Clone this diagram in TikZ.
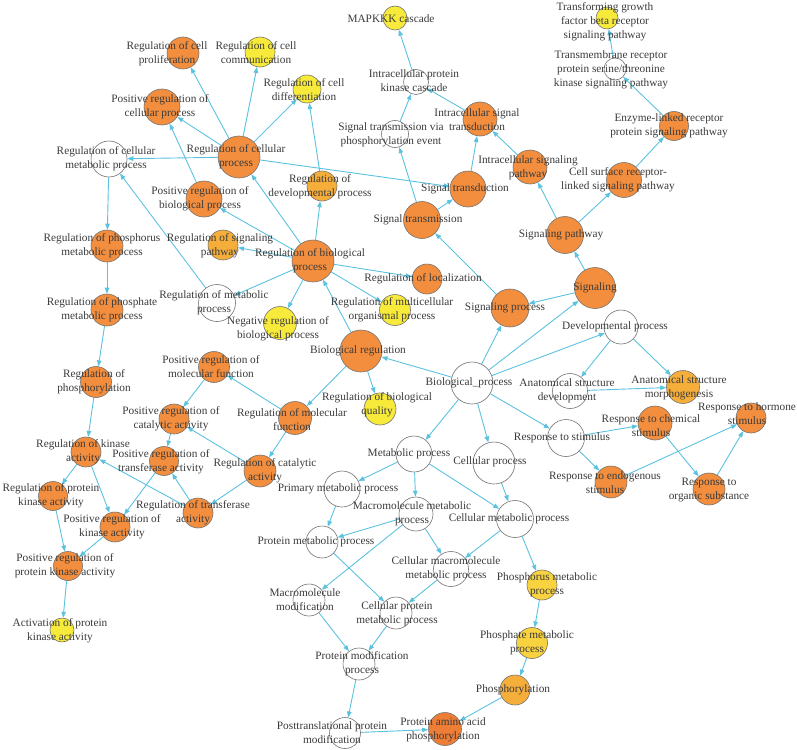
\documentclass[tikz,border=0pt]{standalone}
\usepackage{fontspec}
\setmainfont{Liberation Serif}
\usetikzlibrary{arrows.meta,backgrounds}
\definecolor{edg}{HTML}{5BC2DF}
\definecolor{orng}{HTML}{F28E3E}
\definecolor{lorng}{HTML}{F6AE3B}
\definecolor{dorng}{HTML}{EE7D35}
\definecolor{yell}{HTML}{F7EA3A}
\definecolor{gold}{HTML}{F8D23F}
\definecolor{txt}{HTML}{3A3A3A}
\tikzset{
  gnode/.style={circle,draw=black!55,line width=0.6pt,inner sep=0pt},
  nO/.style={gnode,fill=orng},
  nL/.style={gnode,fill=lorng},
  nD/.style={gnode,fill=dorng},
  nY/.style={gnode,fill=yell},
  nG/.style={gnode,fill=gold},
  nW/.style={gnode,fill=white},
  lbl/.style={align=center,inner sep=0pt,text=txt,font=\fontsize{11.3}{14}\selectfont},
  ar/.style={-{Triangle[length=6pt,width=4.5pt]},line width=0.9pt,draw=edg},
}

\begin{document}
\begin{tikzpicture}[x=1pt,y=-1pt]
  \useasboundingbox (0,0) rectangle (797,749);
  % circles
  \node[nO,minimum size=32] (rcprol) at (183,53) {};
  \node[nY,minimum size=30] (rccom) at (260,52) {};
  \node[nO,minimum size=36] (prcp) at (162,107) {};
  \node[nW,minimum size=36] (rcmp) at (109,159) {};
  \node[nO,minimum size=42] (rcp) at (239,157) {};
  \node[nO,minimum size=36] (prbp) at (204,199) {};
  \node[nO,minimum size=32] (rphosm) at (107,246) {};
  \node[nL,minimum size=30] (rsp) at (223,245) {};
  \node[nY,minimum size=24] (mapkkk) at (395,18) {};
  \node[nY,minimum size=28] (rcdiff) at (307,89) {};
  \node[nW,minimum size=25] (ipkc) at (416,82) {};
  \node[nO,minimum size=34] (ist) at (480,119) {};
  \node[nW,minimum size=27] (stvp) at (395,134) {};
  \node[nL,minimum size=30] (rdp) at (322,186) {};
  \node[nO,minimum size=36] (stduc) at (468,189) {};
  \node[nO,minimum size=37] (stmis) at (422,220) {};
  \node[nO,minimum size=34] (isp) at (530,167) {};
  \node[nY,minimum size=22] (tgfb) at (607,18) {};
  \node[nW,minimum size=22] (tmr) at (615,69) {};
  \node[nO,minimum size=29] (elr) at (674,126) {};
  \node[nO,minimum size=35] (csr) at (624,180) {};
  \node[nO,minimum size=37] (sigp) at (565,235) {};
  \node[nO,minimum size=32] (rphm) at (107,310) {};
  \node[nW,minimum size=37] (rmp) at (217,303) {};
  \node[nO,minimum size=31] (rphy) at (96,382) {};
  \node[nO,minimum size=31] (prmf) at (214,367) {};
  \node[nO,minimum size=30] (prca) at (174,419) {};
  \node[nO,minimum size=30] (rka) at (86,452) {};
  \node[nO,minimum size=29] (prta) at (164,461) {};
  \node[nO,minimum size=32] (rca) at (260,471) {};
  \node[nO,minimum size=33] (rmf) at (295,418) {};
  \node[nO,minimum size=42] (rbp) at (313,261) {};
  \node[nO,minimum size=30] (rloc) at (427,279) {};
  \node[nY,minimum size=31] (rmop) at (395,310) {};
  \node[nY,minimum size=33] (nrbp) at (280,323) {};
  \node[nO,minimum size=42] (breg) at (361,351) {};
  \node[nO,minimum size=38] (sproc) at (510,308) {};
  \node[nY,minimum size=32] (rbq) at (380,409) {};
  \node[nW,minimum size=42] (bp) at (472,383) {};
  \node[nW,minimum size=36] (metp) at (414,454) {};
  \node[nW,minimum size=42] (cellp) at (494,463) {};
  \node[nW,minimum size=36] (pmp) at (342,489) {};
  \node[nO,minimum size=41] (sig) at (595,288) {};
  \node[nW,minimum size=34] (devp) at (621,327) {};
  \node[nW,minimum size=35] (asd) at (570,391) {};
  \node[nL,minimum size=33] (asm) at (683,387) {};
  \node[nO,minimum size=34] (rchem) at (655,423) {};
  \node[nO,minimum size=30] (rhorm) at (751,418) {};
  \node[nW,minimum size=37] (rstim) at (566,438) {};
  \node[nO,minimum size=32] (rendo) at (611,482) {};
  \node[nO,minimum size=32] (rorg) at (709,489) {};
  \node[nO,minimum size=29] (rpka) at (53,496) {};
  \node[nO,minimum size=30] (prka) at (115,527) {};
  \node[nO,minimum size=30] (rta) at (198,513) {};
  \node[nO,minimum size=29] (prpka) at (68,566) {};
  \node[nY,minimum size=24] (apka) at (62,630) {};
  \node[nW,minimum size=34] (mmp) at (416,514) {};
  \node[nW,minimum size=37] (cmp) at (515,519) {};
  \node[nW,minimum size=32] (protmp) at (322,542) {};
  \node[nW,minimum size=35] (cmmp) at (451,569) {};
  \node[nW,minimum size=32] (mmod) at (309,600) {};
  \node[nW,minimum size=32] (cpmp) at (396,613) {};
  \node[nW,minimum size=32] (pmodp) at (359,664) {};
  \node[nW,minimum size=31] (ptpm) at (345,733) {};
  \node[nD,minimum size=33] (paap) at (445,729) {};
  \node[nG,minimum size=30] (phosmp) at (542,585) {};
  \node[nG,minimum size=31] (phatmp) at (532,643) {};
  \node[nL,minimum size=30] (phoryl) at (515,690) {};
  % labels
  \node[lbl] (rcprol-t) at (167,54) {Regulation of cell\\proliferation};
  \node[lbl] (rccom-t) at (256,53) {Regulation of cell\\communication};
  \node[lbl] (prcp-t) at (160,107) {Positive regulation of\\cellular process};
  \node[lbl] (rcmp-t) at (106,159) {Regulation of cellular\\metabolic process};
  \node[lbl] (rcp-t) at (236,157) {Regulation of cellular\\process};
  \node[lbl] (prbp-t) at (200,199) {Positive regulation of\\biological process};
  \node[lbl] (rphosm-t) at (102,246) {Regulation of phosphorus\\metabolic process};
  \node[lbl] (rsp-t) at (220,246) {Regulation of signaling\\pathway};
  \node[lbl] (mapkkk-t) at (391,19) {MAPKKK cascade};
  \node[lbl] (rcdiff-t) at (304,90) {Regulation of cell\\differentiation};
  \node[lbl] (ipkc-t) at (414,81) {Intracellular protein\\kinase cascade};
  \node[lbl] (ist-t) at (477,120) {Intracellular signal\\transduction};
  \node[lbl] (stvp-t) at (391,135) {Signal transmission via\\phosphorylation event};
  \node[lbl] (rdp-t) at (320,187) {Regulation of\\developmental process};
  \node[lbl] (stduc-t) at (465,189) {Signal transduction};
  \node[lbl] (stmis-t) at (418,220) {Signal transmission};
  \node[lbl] (isp-t) at (528,168) {Intracellular signaling\\pathway};
  \node[lbl] (tgfb-t) at (605,22) {Transforming growth\\factor beta receptor\\signaling pathway};
  \node[lbl] (tmr-t) at (611,70) {Transmembrane receptor\\protein serine/threonine\\kinase signaling pathway};
  \node[lbl] (elr-t) at (669,126) {Enzyme-linked receptor\\protein signaling pathway};
  \node[lbl] (csr-t) at (618,180) {Cell surface receptor-\\linked signaling pathway};
  \node[lbl] (sigp-t) at (561,235) {Signaling pathway};
  \node[lbl] (rphm-t) at (102,310) {Regulation of phosphate\\metabolic process};
  \node[lbl] (rmp-t) at (214,303) {Regulation of metabolic\\process};
  \node[lbl] (rphy-t) at (94,382) {Regulation of\\phosphorylation};
  \node[lbl] (prmf-t) at (211,367) {Positive regulation of\\molecular function};
  \node[lbl] (prca-t) at (171,419) {Positive regulation of\\catalytic activity};
  \node[lbl] (rka-t) at (83,452) {Regulation of kinase\\activity};
  \node[lbl] (prta-t) at (161,462) {Positive regulation of\\transferase activity};
  \node[lbl] (rca-t) at (265,471) {Regulation of catalytic\\activity};
  \node[lbl] (rmf-t) at (292,420) {Regulation of molecular\\function};
  \node[lbl] (rbp-t) at (310,261) {Regulation of biological\\process};
  \node[lbl] (rloc-t) at (423,279) {Regulation of localization};
  \node[lbl] (rmop-t) at (392,310) {Regulation of multicellular\\organismal process};
  \node[lbl] (nrbp-t) at (278,329) {Negative regulation of\\biological process};
  \node[lbl] (breg-t) at (358,351) {Biological regulation};
  \node[lbl] (sproc-t) at (505,308) {Signaling process};
  \node[lbl] (rbq-t) at (377,405) {Regulation of biological\\quality};
  \node[lbl] (bp-t) at (469,383) {Biological\_process};
  \node[lbl] (metp-t) at (409,454) {Metabolic process};
  \node[lbl] (cellp-t) at (490,462) {Cellular process};
  \node[lbl] (pmp-t) at (338,489) {Primary metabolic process};
  \node[lbl] (sig-t) at (595,288) {Signaling};
  \node[lbl] (devp-t) at (615,327) {Developmental process};
  \node[lbl] (asd-t) at (567,391) {Anatomical structure\\development};
  \node[lbl] (asm-t) at (679,388) {Anatomical structure\\morphogenesis};
  \node[lbl] (rchem-t) at (651,426) {Response to chemical\\stimulus};
  \node[lbl] (rhorm-t) at (747,414) {Response to hormone\\stimulus};
  \node[lbl] (rstim-t) at (562,438) {Response to stimulus};
  \node[lbl] (rendo-t) at (605,483) {Response to endogenous\\stimulus};
  \node[lbl] (rorg-t) at (709,490) {Response to\\organic substance};
  \node[lbl] (rpka-t) at (51,496) {Regulation of protein\\kinase activity};
  \node[lbl] (prka-t) at (112,527) {Positive regulation of\\kinase activity};
  \node[lbl] (rta-t) at (193,513) {Regulation of transferase\\activity};
  \node[lbl] (prpka-t) at (65,566) {Positive regulation of\\protein kinase activity};
  \node[lbl] (apka-t) at (60,631) {Activation of protein\\kinase activity};
  \node[lbl] (mmp-t) at (412,514) {Macromolecule metabolic\\process};
  \node[lbl] (cmp-t) at (509,519) {Cellular metabolic process};
  \node[lbl] (protmp-t) at (316,542) {Protein metabolic process};
  \node[lbl] (cmmp-t) at (446,569) {Cellular macromolecule\\metabolic process};
  \node[lbl] (mmod-t) at (305,600) {Macromolecule\\modification};
  \node[lbl] (cpmp-t) at (397,614) {Cellular protein\\metabolic process};
  \node[lbl] (pmodp-t) at (362,664) {Protein modification\\process};
  \node[lbl] (ptpm-t) at (332,733) {Posttranslational protein\\modification};
  \node[lbl] (paap-t) at (443,730) {Protein amino acid\\phosphorylation};
  \node[lbl] (phosmp-t) at (547,585) {Phosphorus metabolic\\process};
  \node[lbl] (phatmp-t) at (527,643) {Phosphate metabolic\\process};
  \node[lbl] (phoryl-t) at (513,690) {Phosphorylation};
  % edges
  \begin{scope}[on background layer]
    \foreach \a/\b in {bp/breg,bp/sproc,bp/sig,bp/devp,bp/rstim,bp/metp,bp/cellp,
        devp/asd,devp/asm,asd/asm,rstim/rchem,rstim/rendo,rendo/rhorm,rchem/rorg,rorg/rhorm,
        sig/sproc,sig/sigp,sigp/isp,sigp/csr,csr/elr,elr/tmr,tmr/tgfb,
        sproc/stmis,stmis/stduc,stmis/stvp,stduc/ist,isp/ist,ist/ipkc,stvp/ipkc,ipkc/mapkkk,
        rcp/stduc,rcp/rcprol,rcp/rccom,rcp/rcdiff,rcp/prcp,rcp/rcmp,prbp/prcp,rmp/rcmp,
        rcmp/rphosm,rphosm/rphm,rphm/rphy,rphy/rka,
        rka/rpka,rka/prka,rpka/prpka,prka/prpka,prpka/apka,
        rta/rka,rta/prta,prta/prka,prca/prta,prmf/prca,rca/prca,rca/rta,rmf/prmf,rmf/rca,
        breg/rmf,breg/rbq,breg/rbp,
        rbp/rcp,rbp/rdp,rbp/prbp,rbp/rsp,rbp/rmp,rbp/nrbp,rbp/rloc,rbp/rmop,rdp/rcdiff,
        metp/pmp,metp/mmp,metp/cmp,cellp/cmp,pmp/protmp,mmp/protmp,mmp/cmmp,mmp/mmod,
        cmp/cmmp,cmp/phosmp,protmp/cpmp,cmmp/cpmp,mmod/pmodp,cpmp/pmodp,pmodp/ptpm,ptpm/paap,
        phosmp/phatmp,phatmp/phoryl,phoryl/paap}
      \draw[ar] (\a) -- (\b);
  \end{scope}
\end{tikzpicture}
\end{document}
